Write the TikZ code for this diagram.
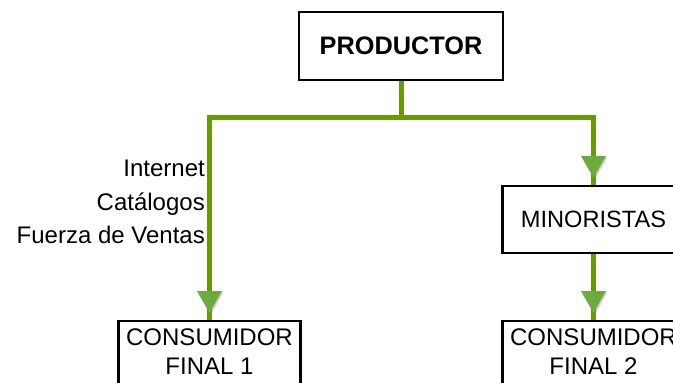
\documentclass[tikz,border=0pt]{standalone}
\usepackage{fontspec}
\setmainfont{Liberation Sans}
\usetikzlibrary{calc,shadows}
\definecolor{linegreen}{RGB}{104,154,8}
\definecolor{tipgreen}{RGB}{108,172,58}
\tikzset{
  box/.style={draw=black, line width=2.2pt, fill=white, inner sep=0pt,
    font=\fontsize{24}{29}\selectfont, align=center},
  flow/.style={draw=linegreen, line width=5pt, line join=miter},
  lbl/.style={anchor=base east, inner sep=0pt, font=\fontsize{24}{29}\selectfont},
  tiptri/.style={fill=tipgreen, drop shadow={shadow xshift=1.5pt, shadow yshift=-1.5pt, opacity=0.35}}
}
% green arrowhead whose point sits at the given coordinate
\newcommand\greentip[1]{%
  \path[tiptri] ($(#1)+(-12.5,-22)$) -- ($(#1)+(12.5,-22)$) -- (#1) -- cycle;}
\begin{document}
\begin{tikzpicture}[x=1pt,y=-1pt]
\useasboundingbox (0,0) rectangle (673,383);
\clip (0,0) rectangle (673,383);

% boxes
\node[box, minimum width=204pt, minimum height=68pt, font=\fontsize{25.3}{29}\selectfont\bfseries] (prod) at (401,46) {PRODUCTOR};
\node[box, minimum width=182pt, minimum height=67pt, font=\fontsize{23.6}{29}\selectfont] (mino) at (593.5,219.5) {MINORISTAS};
\node[box, minimum width=182pt, anchor=north, inner ysep=8pt, text depth=25pt] (cons1) at (209.5,320) {CONSUMIDOR\\FINAL 1};
\node[box, minimum width=182pt, anchor=north, inner ysep=8pt, text depth=25pt] (cons2) at (593.5,320) {CONSUMIDOR\\FINAL 2};

% branch points
\coordinate (mid) at (prod.south |- 0,117.5);
\coordinate (lcorner) at (cons1.north |- mid);
\coordinate (rcorner) at (mino.north |- mid);

% connectors
\draw[flow] (prod.south) -- (mid);
\draw[flow] (cons1.north) -- (lcorner) -- (rcorner) -- (mino.north);
\draw[flow] (mino.south) -- (cons2.north);

% arrowheads
\coordinate (t1) at ($(cons1.north)+(0,-7)$);
\coordinate (t2) at ($(mino.north)+(0,-7)$);
\coordinate (t3) at ($(cons2.north)+(0,-7)$);
\greentip{t1}
\greentip{t2}
\greentip{t3}

% channel labels
\node[lbl] (l1) at (205,176.5) {Internet};
\node[lbl] (l2) at (205,210) {Catálogos};
\node[lbl] (l3) at (205,243) {Fuerza de Ventas};
\end{tikzpicture}
\end{document}
